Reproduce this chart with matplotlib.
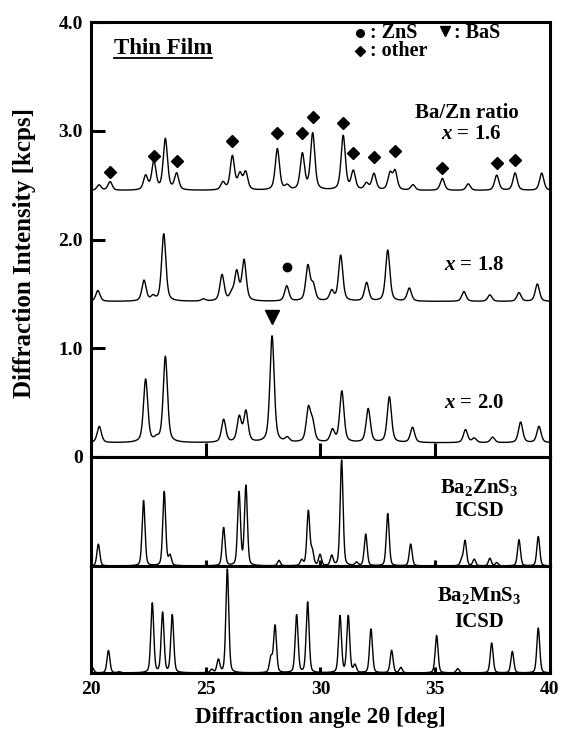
import numpy as np
import matplotlib.pyplot as plt

plt.rcParams['font.family'] = ['Liberation Serif', 'DejaVu Serif']
plt.rcParams['font.weight'] = 'bold'
plt.rcParams['axes.labelweight'] = 'bold'
plt.rcParams['mathtext.fontset'] = 'custom'
plt.rcParams['mathtext.rm'] = 'Liberation Serif:bold'
plt.rcParams['mathtext.it'] = 'Liberation Serif:italic:bold'
plt.rcParams['mathtext.bf'] = 'Liberation Serif:bold'

# measured film patterns: peak position [deg], net height [kcps]
film16_base = 2.45
film16_pos = [20.35, 20.83, 22.38, 22.74, 23.24, 23.73, 25.75, 26.16, 26.49, 26.74, 28.12, 28.55,
              29.21, 29.66, 30.99, 31.43, 32.0, 32.33, 33.03, 33.25, 34.03, 35.31, 36.44, 37.68, 38.48, 39.64]
film16_amp = [0.05, 0.08, 0.13, 0.26, 0.47, 0.15, 0.07, 0.31, 0.14, 0.16, 0.38, 0.04,
              0.33, 0.52, 0.50, 0.17, 0.06, 0.15, 0.15, 0.17, 0.05, 0.11, 0.06, 0.14, 0.16, 0.16]

film18_base = 1.43
film18_pos = [20.3, 22.31, 22.7, 23.17, 24.9, 25.71, 26.13, 26.35, 26.67, 28.53, 29.45, 29.68,
              30.49, 30.88, 32.01, 32.93, 33.87, 36.25, 37.38, 38.65, 39.45]
film18_amp = [0.10, 0.19, 0.04, 0.62, 0.02, 0.24, 0.06, 0.26, 0.37, 0.14, 0.32, 0.14,
              0.09, 0.42, 0.17, 0.47, 0.12, 0.09, 0.06, 0.08, 0.16]

film20_base = 0.13
film20_pos = [20.36, 22.38, 22.86, 23.24, 25.78, 26.46, 26.75, 27.89, 28.55, 29.47, 29.65,
              30.52, 30.93, 32.08, 33.0, 34.01, 36.32, 36.7, 37.5, 38.72, 39.52]
film20_amp = [0.15, 0.58, 0.03, 0.79, 0.21, 0.23, 0.28, 0.98, 0.04, 0.30, 0.17,
              0.11, 0.47, 0.31, 0.42, 0.14, 0.12, 0.04, 0.05, 0.19, 0.15]

# ICSD reference patterns (normalised)
zn_pos = [20.32, 22.29, 23.19, 23.44, 25.78, 26.45, 26.75, 28.19, 29.18, 29.47, 29.64, 29.98,
          30.49, 30.92, 31.57, 31.97, 32.93, 33.93, 36.15, 36.3, 36.7, 37.38, 37.68, 38.65, 39.49]
zn_amp = [0.20, 0.60, 0.68, 0.09, 0.35, 0.67, 0.73, 0.05, 0.05, 0.50, 0.13, 0.10,
          0.09, 0.97, 0.03, 0.29, 0.48, 0.20, 0.05, 0.23, 0.06, 0.07, 0.03, 0.24, 0.27]

mn_pos = [20.06, 20.76, 21.23, 22.67, 23.12, 23.54, 25.26, 25.55, 25.94, 27.84, 28.02, 28.96,
          29.44, 30.85, 31.21, 31.5, 32.2, 33.1, 33.5, 35.06, 35.98, 37.46, 38.36, 39.49]
mn_amp = [0.05, 0.21, 0.01, 0.65, 0.56, 0.54, 0.03, 0.12, 0.97, 0.14, 0.44, 0.54,
          0.66, 0.53, 0.53, 0.07, 0.41, 0.21, 0.05, 0.35, 0.04, 0.28, 0.20, 0.42]

# phase markers
other_x = [20.83, 22.74, 23.73, 26.16, 28.12, 29.21, 29.66, 30.99, 31.43, 32.33, 33.25, 35.31, 37.68, 38.48]
other_y = [2.62, 2.77, 2.72, 2.91, 2.98, 2.98, 3.13, 3.07, 2.80, 2.76, 2.81, 2.66, 2.70, 2.73]
zns_x, zns_y = [28.55], [1.75]
bas_x, bas_y = [27.9], [1.29]


def pattern(x, pos, amp, fwhm, eta=0.5):
    y = np.zeros_like(x)
    for p, a in zip(pos, amp):
        d = (x - p) / (fwhm / 2)
        y += a * (eta / (1 + d ** 2) + (1 - eta) * np.exp(-np.log(2) * d ** 2))
    return y


x = np.linspace(20, 40, 4001)

fig = plt.figure(figsize=(5.66, 7.34), dpi=100)
left, width = 0.1608, 0.8109
ax1 = fig.add_axes([left, 0.3774, width, 0.5926])
ax2 = fig.add_axes([left, 0.2289, width, 0.1485])
ax3 = fig.add_axes([left, 0.0831, width, 0.1458])

lw = 1.0
ax1.plot(x, film16_base + pattern(x, film16_pos, film16_amp, 0.22), color='k', lw=lw)
ax1.plot(x, film18_base + pattern(x, film18_pos, film18_amp, 0.22), color='k', lw=lw)
ax1.plot(x, film20_base + pattern(x, film20_pos, film20_amp, 0.22), color='k', lw=lw)
ax2.plot(x, pattern(x, zn_pos, zn_amp, 0.15, 0.3), color='k', lw=lw)
ax3.plot(x, pattern(x, mn_pos, mn_amp, 0.15, 0.3), color='k', lw=lw)

ax1.plot(other_x, other_y, 'D', color='k', ms=6.5, clip_on=False)
ax1.plot(zns_x, zns_y, 'o', color='k', ms=6)
ax1.plot(bas_x, bas_y, 'v', color='k', ms=10)

for ax in (ax1, ax2, ax3):
    ax.set_xlim(20, 40)
    for s in ax.spines.values():
        s.set_linewidth(2.2)
    ax.tick_params(axis='both', direction='in', width=2.2, labelsize=14)

ax1.set_ylim(0, 4.0)
ax1.set_yticks([0, 1, 2, 3, 4])
ax1.set_yticklabels(['0', '1.0', '2.0', '3.0', '4.0'])
ax1.set_xticks([25, 30, 35])
ax1.tick_params(axis='x', length=10, labelbottom=False)
ax1.tick_params(axis='y', length=10, pad=6)
ax1.set_ylabel('Diffraction Intensity [kcps]', fontsize=18)
ax1.yaxis.set_label_coords(-0.12, 0.47)

for ax in (ax2, ax3):
    ax.set_ylim(0, 1.0)
    ax.set_yticks([])
    ax.set_xticks([25, 30, 35])
    ax.tick_params(axis='x', length=4)
ax2.tick_params(axis='x', labelbottom=False)
ax3.set_xticks([20, 25, 30, 35, 40])
ax3.tick_params(axis='x', pad=6)
ax3.set_xlabel('Diffraction angle 2θ [deg]', fontsize=16.5, labelpad=6)

t = ax1.text(21.0, 3.76, 'Thin Film', fontsize=16.5, va='center', ha='left')
fig.canvas.draw()
bb = t.get_window_extent().transformed(ax1.transData.inverted())
ax1.plot([bb.x0, bb.x1], [bb.y0 + 0.01, bb.y0 + 0.01], color='k', lw=1.3)

ax1.plot([31.72], [3.90], 'o', color='k', ms=5.5)
ax1.text(31.95, 3.90, ' : ZnS', fontsize=14.5, va='center')
ax1.plot([35.42], [3.92], 'v', color='k', ms=7.5)
ax1.text(35.6, 3.90, ' : BaS', fontsize=14.5, va='center')
ax1.plot([31.72], [3.73], 'D', color='k', ms=5.5)
ax1.text(31.95, 3.73, ' : other', fontsize=14.5, va='center')

ax1.text(36.4, 3.16, 'Ba/Zn ratio', fontsize=15, ha='center', va='center')
ax1.text(36.55, 2.97, '$x$ = 1.6', fontsize=15, ha='center', va='center')
ax1.text(36.7, 1.77, '$x$ = 1.8', fontsize=15, ha='center', va='center')
ax1.text(36.7, 0.50, '$x$ = 2.0', fontsize=15, ha='center', va='center')

ax2.text(36.9, 0.72, 'Ba$_2$ZnS$_3$', fontsize=15, ha='center', va='center')
ax2.text(36.9, 0.50, 'ICSD', fontsize=15, ha='center', va='center')
ax3.text(36.9, 0.72, 'Ba$_2$MnS$_3$', fontsize=15, ha='center', va='center')
ax3.text(36.9, 0.48, 'ICSD', fontsize=15, ha='center', va='center')

fig.savefig('out.png', dpi=100)
